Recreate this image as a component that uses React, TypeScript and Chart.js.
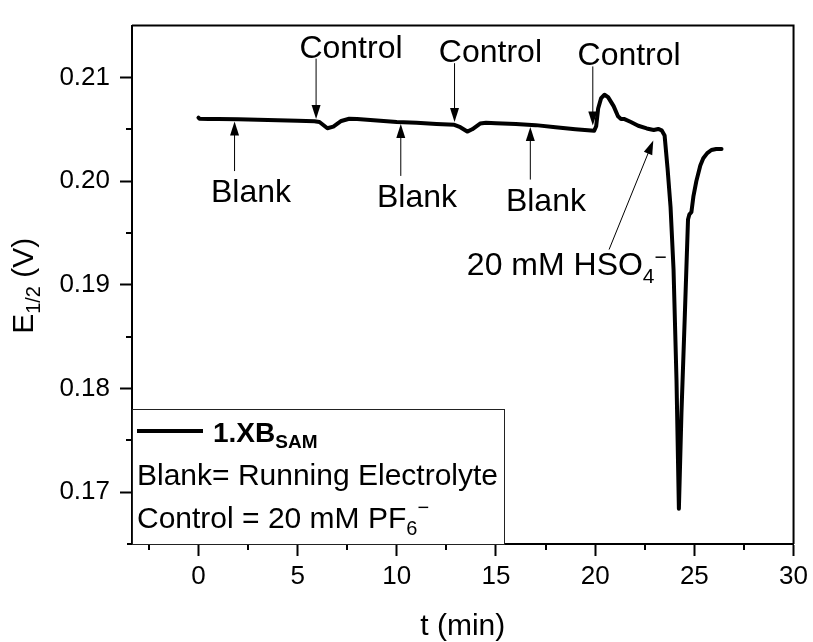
import { useEffect, useRef } from "react";
import { Chart, registerables } from "chart.js";

Chart.register(...registerables);

const FONT = "'Liberation Sans', Arial, sans-serif";

// ---- series data: t (min) vs E1/2 (V) ----
const tMinutes = [
  0, 0.05, 0.5, 1, 2, 3, 4, 5, 5.85, 6.1, 6.5, 6.8, 7.2, 7.6, 8, 9, 10, 11, 12, 12.9,
  13.2, 13.55, 13.8, 14.2, 14.5, 15, 16, 17, 18, 19, 19.95, 20.05, 20.15, 20.3, 20.47,
  20.65, 20.93, 21.15, 21.3, 21.45, 21.8, 22.17, 22.6, 22.95, 23.18, 23.35, 23.5, 23.65,
  23.8, 23.95, 24.1, 24.22, 24.35, 24.52, 24.68, 24.75, 24.85, 24.95, 25.1, 25.3, 25.45,
  25.65, 25.86, 26.1, 26.37,
];
const e12 = [
  0.20612, 0.20602, 0.206, 0.20598, 0.20596, 0.20592, 0.20588, 0.20583, 0.20578, 0.2057,
  0.2051, 0.20525, 0.2058, 0.20602, 0.206, 0.20585, 0.2057, 0.20562, 0.20552, 0.20543,
  0.2052, 0.20478, 0.205, 0.20555, 0.20563, 0.20558, 0.20552, 0.2054, 0.2052, 0.205,
  0.20485, 0.2053, 0.207, 0.208, 0.20833, 0.2081, 0.20723, 0.20625, 0.206, 0.206, 0.2057,
  0.20534, 0.20508, 0.20493, 0.20503, 0.2049, 0.2044, 0.2012, 0.1975, 0.1915, 0.1808,
  0.1684, 0.1777, 0.1871, 0.1963, 0.1968, 0.197, 0.1985, 0.2, 0.2015, 0.2022, 0.2027,
  0.203, 0.2031, 0.2031,
];
const seriesLabel = "1.XB";
const seriesLabelSub = "SAM";

// ---- axes ----
const xMin = -3.35;
const xMax = 30;
const yMin = 0.165;
const yMax = 0.215;
const xTicks = [0, 5, 10, 15, 20, 25, 30];
const xMinorTicks = [-2.5, 2.5, 7.5, 12.5, 17.5, 22.5, 27.5];
const yTicks = [0.17, 0.18, 0.19, 0.2, 0.21];
const yMinorTicks = [0.175, 0.185, 0.195, 0.205];
const xTitle = "t (min)";

// ---- annotations (data coordinates) ----
const controlText = "Control";
const controlLabelT = [5.09, 12.12, 19.11];
const controlLabelE = [0.21191, 0.21147, 0.21116];
const controlArrowT = [5.93, 12.91, 19.88];
const controlArrowTipE = [0.20598, 0.2057, 0.20536];

const blankText = "Blank";
const blankLabelT = [0.63, 9.0, 15.5];
const blankLabelE = [0.19795, 0.19748, 0.1971];
const blankArrowT = [1.82, 10.2, 16.73];
const blankArrowTipE = [0.20575, 0.2055, 0.20522];
const blankArrowTailE = [0.20097, 0.2005, 0.20015];

const hsoLabelT = 13.53;
const hsoLabelE = 0.19097;
const hsoArrowTail = [20.7, 0.1934];
const hsoArrowTip = [22.93, 0.20392];

const legendLine1 = "Blank= Running Electrolyte";
const legendLine2 = "Control = 20 mM PF";

type Seg = { text: string; size: number; bold?: boolean; dy?: number };

function drawRich(ctx: CanvasRenderingContext2D, x: number, y: number, segs: Seg[]) {
  let cx = x;
  for (const s of segs) {
    ctx.font = `${s.bold ? "bold " : ""}${s.size}px ${FONT}`;
    ctx.fillText(s.text, cx, y + (s.dy || 0));
    cx += ctx.measureText(s.text).width;
  }
  return cx - x;
}

function measureRich(ctx: CanvasRenderingContext2D, segs: Seg[]) {
  let w = 0;
  for (const s of segs) {
    ctx.font = `${s.bold ? "bold " : ""}${s.size}px ${FONT}`;
    w += ctx.measureText(s.text).width;
  }
  return w;
}

function arrow(ctx: CanvasRenderingContext2D, x1: number, y1: number, x2: number, y2: number) {
  const ang = Math.atan2(y2 - y1, x2 - x1);
  const L = 14;
  const W = 4.5;
  ctx.beginPath();
  ctx.lineWidth = 1;
  ctx.strokeStyle = "#000";
  ctx.moveTo(x1, y1);
  ctx.lineTo(x2 - Math.cos(ang) * L * 0.8, y2 - Math.sin(ang) * L * 0.8);
  ctx.stroke();
  ctx.beginPath();
  ctx.fillStyle = "#000";
  ctx.moveTo(x2, y2);
  ctx.lineTo(x2 - Math.cos(ang) * L - Math.sin(ang) * W, y2 - Math.sin(ang) * L + Math.cos(ang) * W);
  ctx.lineTo(x2 - Math.cos(ang) * L + Math.sin(ang) * W, y2 - Math.sin(ang) * L - Math.cos(ang) * W);
  ctx.closePath();
  ctx.fill();
}

const decorPlugin = {
  id: "decor",
  afterDraw(chart: any) {
    const ctx: CanvasRenderingContext2D = chart.ctx;
    const xs = chart.scales.x;
    const ys = chart.scales.y;
    const a = chart.chartArea;
    ctx.save();
    // frame top & right
    ctx.strokeStyle = "#000";
    ctx.lineWidth = 2;
    ctx.beginPath();
    ctx.moveTo(a.left - 5, a.bottom);
    ctx.lineTo(a.left, a.bottom);
    ctx.moveTo(a.left, a.top);
    ctx.lineTo(a.right, a.top);
    ctx.lineTo(a.right, a.bottom);
    ctx.stroke();
    // minor ticks
    ctx.beginPath();
    for (const v of xMinorTicks) {
      const px = Math.round(xs.getPixelForValue(v));
      ctx.moveTo(px, a.bottom);
      ctx.lineTo(px, a.bottom + 6);
    }
    for (const v of yMinorTicks) {
      const py = Math.round(ys.getPixelForValue(v));
      ctx.moveTo(a.left, py);
      ctx.lineTo(a.left - 6, py);
    }
    ctx.stroke();

    // annotations
    ctx.fillStyle = "#000";
    ctx.textBaseline = "alphabetic";
    ctx.textAlign = "left";
    const annSize = 32;
    for (let i = 0; i < controlLabelT.length; i++) {
      drawRich(ctx, xs.getPixelForValue(controlLabelT[i]), ys.getPixelForValue(controlLabelE[i]), [
        { text: controlText, size: annSize },
      ]);
      const ax = xs.getPixelForValue(controlArrowT[i]);
      arrow(ctx, ax, ys.getPixelForValue(controlLabelE[i]) + 1, ax, ys.getPixelForValue(controlArrowTipE[i]));
    }
    for (let i = 0; i < blankLabelT.length; i++) {
      drawRich(ctx, xs.getPixelForValue(blankLabelT[i]), ys.getPixelForValue(blankLabelE[i]), [
        { text: blankText, size: annSize },
      ]);
      const ax = xs.getPixelForValue(blankArrowT[i]);
      arrow(ctx, ax, ys.getPixelForValue(blankArrowTailE[i]), ax, ys.getPixelForValue(blankArrowTipE[i]));
    }
    drawRich(ctx, xs.getPixelForValue(hsoLabelT), ys.getPixelForValue(hsoLabelE), [
      { text: "20 mM HSO", size: annSize },
      { text: "4", size: 21, dy: 8 },
      { text: "\u2212", size: 21, dy: -11 },
    ]);
    arrow(
      ctx,
      xs.getPixelForValue(hsoArrowTail[0]),
      ys.getPixelForValue(hsoArrowTail[1]),
      xs.getPixelForValue(hsoArrowTip[0]),
      ys.getPixelForValue(hsoArrowTip[1])
    );

    // legend box
    const lx = a.left;
    const lw = 372;
    const lh = 135;
    const ly = a.bottom - lh;
    ctx.fillStyle = "#fff";
    ctx.fillRect(lx + 1, ly, lw - 1, lh);
    ctx.strokeStyle = "#222";
    ctx.lineWidth = 1;
    ctx.strokeRect(lx + 0.5, ly + 0.5, lw, lh);
    ctx.strokeStyle = "#000";
    ctx.lineWidth = 4;
    ctx.beginPath();
    ctx.moveTo(lx + 5, ly + 22);
    ctx.lineTo(lx + 71, ly + 22);
    ctx.stroke();
    ctx.fillStyle = "#000";
    drawRich(ctx, lx + 81, ly + 33, [
      { text: seriesLabel, size: 28, bold: true },
      { text: seriesLabelSub, size: 19, bold: true, dy: 6 },
    ]);
    drawRich(ctx, lx + 5, ly + 76, [{ text: legendLine1, size: 30 }]);
    drawRich(ctx, lx + 5, ly + 119, [
      { text: legendLine2, size: 30 },
      { text: "6", size: 20, dy: 7 },
      { text: "\u2212", size: 20, dy: -14 },
    ]);

    // y-axis title
    const segs: Seg[] = [
      { text: "E", size: 30 },
      { text: "1/2", size: 20, dy: 7 },
      { text: " (V)", size: 30 },
    ];
    const w = measureRich(ctx, segs);
    const cy = ys.getPixelForValue(0.19) + 1;
    ctx.translate(33, cy + w / 2);
    ctx.rotate(-Math.PI / 2);
    drawRich(ctx, 0, 0, segs);
    ctx.restore();
  },
};

export default function App() {
  const ref = useRef<HTMLCanvasElement | null>(null);
  useEffect(() => {
    if (!ref.current) return;
    const data = tMinutes.map((t, i) => ({ x: t, y: e12[i] }));
    const chart = new Chart(ref.current, {
      type: "line",
      data: {
        datasets: [
          {
            label: seriesLabel + seriesLabelSub,
            data,
            borderColor: "#000",
            borderWidth: 4,
            pointRadius: 0,
            tension: 0,
            fill: false,
            borderJoinStyle: "round",
            borderCapStyle: "round",
          } as any,
        ],
      },
      options: {
        animation: false,
        responsive: false,
        maintainAspectRatio: false,
        layout: { padding: { top: 15, right: 17, left: 0, bottom: 0 } },
        plugins: { legend: { display: false }, tooltip: { enabled: false } },
        scales: {
          x: {
            type: "linear",
            min: xMin,
            max: xMax,
            afterBuildTicks: (s: any) => {
              s.ticks = xTicks.map((v) => ({ value: v }));
            },
            afterFit: (s: any) => {
              s.height = 98;
            },
            grid: {
              drawOnChartArea: false,
              drawTicks: true,
              tickLength: 12,
              tickWidth: 2,
              tickColor: "#000",
              color: "#000",
            },
            border: { display: true, color: "#000", width: 2 },
            ticks: {
              color: "#000",
              font: { family: FONT, size: 26 },
              padding: 5,
              maxRotation: 0,
              autoSkip: false,
              callback: (v: any) => String(v),
            },
            title: {
              display: true,
              text: xTitle,
              color: "#000",
              font: { family: FONT, size: 30, lineHeight: 1 },
              padding: 0,
            },
          },
          y: {
            type: "linear",
            min: yMin,
            max: yMax,
            afterBuildTicks: (s: any) => {
              s.ticks = yTicks.map((v) => ({ value: v }));
            },
            afterFit: (s: any) => {
              s.width = 132;
            },
            grid: {
              drawOnChartArea: false,
              drawTicks: true,
              tickLength: 12,
              tickWidth: 2,
              tickColor: "#000",
              color: "#000",
            },
            border: { display: true, color: "#000", width: 2 },
            ticks: {
              color: "#000",
              font: { family: FONT, size: 26 },
              padding: 10,
              autoSkip: false,
              callback: (v: any) => Number(v).toFixed(2),
            },
          },
        },
      },
      plugins: [decorPlugin],
    });
    return () => chart.destroy();
  }, []);
  return (
    <div style={{ position: "absolute", left: 0, top: 0, width: 813, height: 642, background: "#fff" }}>
      <canvas ref={ref} width={813} height={642} style={{ display: "block" }} />
    </div>
  );
}
